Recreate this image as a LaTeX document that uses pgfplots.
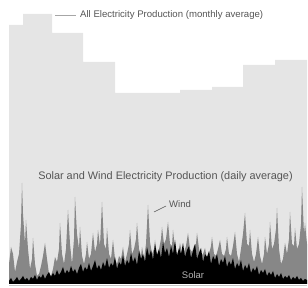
\documentclass[border=0pt]{standalone}
\usepackage{pgfplots}
\pgfplotsset{compat=1.18}
\usepackage{fontspec}
\setmainfont{Liberation Sans}
\definecolor{bgarea}{RGB}{229,229,229}
\definecolor{windc}{RGB}{135,135,135}
\definecolor{txt}{RGB}{85,85,85}
\begin{document}
\begin{tikzpicture}
\begin{axis}[
  scale only axis, width=308pt, height=288pt,
  xmin=0, xmax=308, ymin=-4, ymax=284,
  hide axis, clip=true,
]
% monthly average of all electricity production
\addplot[const plot, fill=bgarea, draw=none] coordinates {
(9,259)(23,270)(52,251)(83,222)(115,191)(147,191)(180,194)(212,197)(243,219)(275,224)(307,224)
} \closedcycle;
% wind daily average
\addplot[fill=windc, draw=none] coordinates {
(9,20)(11,37)(13,30)(15,12)(17,22)(19,30)(21,60)(22,101)(23,70)(25,40)(26,64)(28,35)(30,15)(32,25)(33,46)(35,20)(37,8)(39,10)(41,18)(43,28)(45,41)(47,25)(49,10)(51,8)(53,15)(55,27)(57,22)(59,35)(60,61)(62,30)(64,20)(66,35)(68,74)(70,40)(72,20)(74,45)(75,87)(77,50)(79,35)(80,57)(82,28)(84,20)(86,30)(87,42)(89,25)(91,30)(93,51)(95,32)(97,40)(98,54)(100,38)(102,82)(104,40)(106,35)(107,56)(109,30)(111,25)(113,44)(115,25)(117,20)(119,28)(121,25)(123,37)(125,22)(127,30)(129,40)(130,54)(132,30)(134,35)(136,45)(137,61)(139,35)(141,28)(142,37)(144,25)(146,40)(148,79)(150,42)(152,30)(154,35)(155,44)(157,28)(159,35)(161,45)(162,57)(164,40)(166,45)(168,62)(170,40)(172,38)(173,54)(175,35)(177,30)(179,35)(180,41)(182,30)(184,32)(186,38)(188,51)(190,35)(192,32)(194,38)(196,40)(197,51)(199,35)(201,28)(203,30)(205,36)(207,25)(209,30)(211,38)(212,47)(214,30)(216,28)(218,35)(220,44)(222,30)(224,28)(226,35)(227,47)(229,30)(231,28)(233,38)(235,52)(237,30)(239,22)(241,35)(243,50)(245,71)(247,40)(249,38)(250,54)(252,30)(254,22)(256,30)(258,47)(260,28)(262,20)(264,30)(265,47)(267,30)(269,40)(270,62)(272,35)(274,40)(276,55)(277,76)(279,35)(281,20)(283,25)(285,41)(287,30)(289,45)(290,72)(292,40)(294,38)(295,56)(297,35)(299,40)(301,60)(302,97)(304,50)(305,61)(307,40)
} \closedcycle;
% solar daily average
\addplot[fill=black, draw=none] coordinates {
(9,3)(11,6)(13,2)(15,4)(17,7)(19,3)(21,5)(23,8)(25,4)(27,6)(29,3)(31,7)(33,5)(35,9)(37,4)(39,8)(41,6)(43,10)(45,5)(47,9)(49,12)(51,7)(53,11)(55,8)(57,14)(59,9)(61,12)(63,17)(65,10)(67,14)(69,11)(71,18)(73,12)(75,15)(77,10)(79,16)(81,20)(83,12)(85,17)(87,14)(89,21)(91,13)(93,18)(95,24)(97,15)(99,19)(101,14)(103,22)(105,17)(107,26)(109,16)(111,21)(113,18)(115,27)(117,15)(119,22)(121,19)(123,29)(125,18)(127,24)(129,20)(131,31)(133,22)(135,27)(137,19)(139,33)(141,25)(143,30)(145,22)(147,37)(149,28)(151,34)(153,24)(155,40)(157,29)(159,35)(161,26)(163,42)(165,31)(167,36)(169,27)(171,38)(173,30)(175,44)(177,28)(179,36)(181,30)(183,41)(185,27)(187,34)(189,38)(191,26)(193,33)(195,40)(197,25)(199,31)(201,36)(203,22)(205,30)(207,27)(209,33)(211,20)(213,28)(215,24)(217,30)(219,18)(221,25)(223,21)(225,28)(227,17)(229,23)(231,19)(233,26)(235,15)(237,21)(239,17)(241,24)(243,13)(245,19)(247,15)(249,21)(251,11)(253,16)(255,13)(257,18)(259,9)(261,14)(263,11)(265,15)(267,8)(269,12)(271,9)(273,13)(275,6)(277,10)(279,7)(281,11)(283,5)(285,8)(287,6)(289,9)(291,4)(293,7)(295,5)(297,8)(299,4)(301,6)(303,3)(305,5)(307,4)
} \closedcycle;
\draw[gray!45, line width=0.6pt] (axis cs:9,-1.5) -- (axis cs:307,-1.5);
% annotations
\draw[gray!70, line width=0.5pt] (axis cs:55,269) -- (axis cs:76,269);
\node[anchor=west, text=txt, font=\fontsize{9.6}{11}\selectfont, inner sep=0pt] at (axis cs:80,268.5) {All Electricity Production (monthly average)};
\node[anchor=center, text=txt, font=\fontsize{10.9}{12}\selectfont, inner sep=0pt] at (axis cs:165.5,107) {Solar and Wind Electricity Production (daily average)};
\draw[txt, line width=0.5pt] (axis cs:154,72) -- (axis cs:166,78);
\node[anchor=west, text=txt, font=\fontsize{9.5}{11}\selectfont, inner sep=0pt] at (axis cs:169,80) {Wind};
\node[anchor=center, text=gray!60, font=\fontsize{9.5}{11}\selectfont, inner sep=0pt] at (axis cs:193,9) {Solar};
\end{axis}
\pgfresetboundingbox
\useasboundingbox (current axis.south west) rectangle (current axis.north east);
\end{tikzpicture}
\end{document}
